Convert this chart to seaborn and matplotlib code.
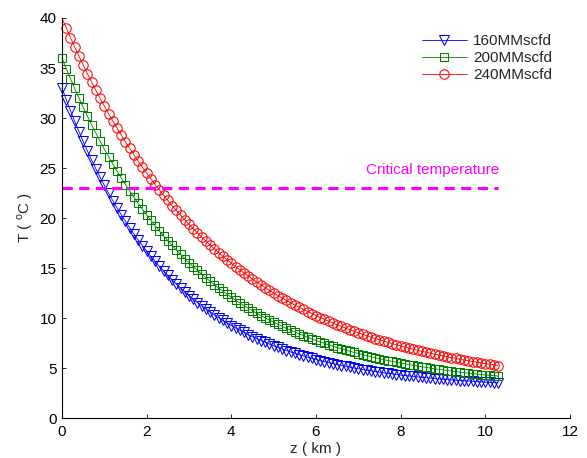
import matplotlib
matplotlib.use("Agg")
import matplotlib.pyplot as plt
import seaborn as sns
import pandas as pd

# depth along the pipeline (km)
z_km = [0.0, 0.1, 0.2, 0.3, 0.4, 0.5, 0.6, 0.7, 0.8, 0.9,
        1.0, 1.1, 1.2, 1.3, 1.4, 1.5, 1.6, 1.7, 1.8, 1.9,
        2.0, 2.1, 2.2, 2.3, 2.4, 2.5, 2.6, 2.7, 2.8, 2.9,
        3.0, 3.1, 3.2, 3.3, 3.4, 3.5, 3.6, 3.7, 3.8, 3.9,
        4.0, 4.1, 4.2, 4.3, 4.4, 4.5, 4.6, 4.7, 4.8, 4.9,
        5.0, 5.1, 5.2, 5.3, 5.4, 5.5, 5.6, 5.7, 5.8, 5.9,
        6.0, 6.1, 6.2, 6.3, 6.4, 6.5, 6.6, 6.7, 6.8, 6.9,
        7.0, 7.1, 7.2, 7.3, 7.4, 7.5, 7.6, 7.7, 7.8, 7.9,
        8.0, 8.1, 8.2, 8.3, 8.4, 8.5, 8.6, 8.7, 8.8, 8.9,
        9.0, 9.1, 9.2, 9.3, 9.4, 9.5, 9.6, 9.7, 9.8, 9.9,
        10.0, 10.1, 10.2, 10.3]

# temperature (degC)
T_160 = [33.00, 31.85, 30.74, 29.67, 28.65, 27.66, 26.71, 25.80, 24.92, 24.08,
         23.27, 22.49, 21.74, 21.02, 20.33, 19.66, 19.02, 18.40, 17.81, 17.24,
         16.69, 16.17, 15.66, 15.17, 14.71, 14.26, 13.82, 13.41, 13.01, 12.62,
         12.25, 11.90, 11.55, 11.22, 10.91, 10.60, 10.31, 10.03, 9.76, 9.50,
         9.25, 9.01, 8.78, 8.56, 8.34, 8.14, 7.94, 7.75, 7.57, 7.39,
         7.22, 7.06, 6.90, 6.75, 6.61, 6.47, 6.34, 6.21, 6.09, 5.97,
         5.85, 5.74, 5.64, 5.54, 5.44, 5.35, 5.25, 5.17, 5.08, 5.00,
         4.93, 4.85, 4.78, 4.71, 4.65, 4.58, 4.52, 4.46, 4.41, 4.35,
         4.30, 4.25, 4.20, 4.16, 4.11, 4.07, 4.03, 3.99, 3.95, 3.91,
         3.88, 3.85, 3.81, 3.78, 3.75, 3.72, 3.70, 3.67, 3.64, 3.62,
         3.59, 3.57, 3.55, 3.53]

T_200 = [36.00, 34.95, 33.94, 32.96, 32.01, 31.08, 30.19, 29.33, 28.49, 27.68,
         26.90, 26.14, 25.41, 24.70, 24.01, 23.34, 22.70, 22.07, 21.47, 20.88,
         20.31, 19.76, 19.23, 18.71, 18.22, 17.73, 17.27, 16.81, 16.37, 15.95,
         15.54, 15.14, 14.76, 14.38, 14.02, 13.67, 13.33, 13.00, 12.69, 12.38,
         12.08, 11.79, 11.51, 11.24, 10.98, 10.73, 10.48, 10.25, 10.02, 9.79,
         9.58, 9.37, 9.17, 8.97, 8.78, 8.60, 8.42, 8.25, 8.08, 7.92,
         7.76, 7.61, 7.47, 7.32, 7.19, 7.05, 6.93, 6.80, 6.68, 6.56,
         6.45, 6.34, 6.23, 6.13, 6.03, 5.94, 5.84, 5.75, 5.67, 5.58,
         5.50, 5.42, 5.34, 5.27, 5.20, 5.13, 5.06, 4.99, 4.93, 4.87,
         4.81, 4.75, 4.70, 4.64, 4.59, 4.54, 4.49, 4.44, 4.40, 4.35,
         4.31, 4.27, 4.23, 4.19]

T_240 = [40.00, 39.01, 38.04, 37.10, 36.19, 35.30, 34.43, 33.59, 32.77, 31.97,
         31.20, 30.44, 29.71, 28.99, 28.29, 27.61, 26.96, 26.31, 25.69, 25.08,
         24.49, 23.91, 23.35, 22.81, 22.27, 21.76, 21.25, 20.77, 20.29, 19.83,
         19.37, 18.94, 18.51, 18.09, 17.69, 17.29, 16.91, 16.54, 16.18, 15.82,
         15.48, 15.14, 14.82, 14.50, 14.19, 13.89, 13.60, 13.32, 13.04, 12.77,
         12.51, 12.25, 12.01, 11.76, 11.53, 11.30, 11.08, 10.86, 10.65, 10.45,
         10.25, 10.05, 9.86, 9.68, 9.50, 9.33, 9.16, 8.99, 8.83, 8.67,
         8.52, 8.37, 8.23, 8.09, 7.95, 7.82, 7.69, 7.57, 7.44, 7.32,
         7.21, 7.10, 6.99, 6.88, 6.77, 6.67, 6.58, 6.48, 6.39, 6.30,
         6.21, 6.12, 6.04, 5.96, 5.88, 5.80, 5.72, 5.65, 5.58, 5.51,
         5.44, 5.38, 5.31, 5.25]

crit_z = [0.0, 10.3]
crit_T = [23.0, 23.0]

sns.set_theme(style="ticks", rc={
    "xtick.direction": "in", "ytick.direction": "in",
    "xtick.major.size": 3, "ytick.major.size": 3,
    "xtick.major.width": 0.6, "ytick.major.width": 0.6,
    "axes.linewidth": 0.8, "axes.edgecolor": "black",
})
plt.rcParams["font.family"] = ["Liberation Sans", "DejaVu Sans"]
plt.rcParams["mathtext.fontset"] = "custom"
plt.rcParams["mathtext.rm"] = "Liberation Sans"

fig = plt.figure(figsize=(5.87, 4.58), dpi=100)
ax = fig.add_axes([0.1056, 0.0873, 0.8654, 0.8734])

series = [
    ("160MMscfd", T_160, "#0000ff", "v", 6.8, None),
    ("200MMscfd", T_200, "#008000", "s", 6.2, None),
    ("240MMscfd", T_240, "#ff0000", "o", 6.8, slice(1, None)),
]
for name, temps, col, mk, ms, every in series:
    df = pd.DataFrame({"z": z_km, "T": temps})
    sns.lineplot(data=df, x="z", y="T", ax=ax, color=col, linewidth=0.6,
                 marker=mk, markersize=ms, markerfacecolor="none",
                 markeredgecolor=col, markeredgewidth=0.75,
                 markevery=every, label=name, errorbar=None, clip_on=False)

ax.plot(crit_z, crit_T, color="#ff00ff", linewidth=2.3, dashes=(3.2, 2.0))
ax.text(7.18, 24.8, "Critical temperature", color="#ff00ff", fontsize=11,
        ha="left", va="center")

ax.set_xlim(0, 12)
ax.set_ylim(0, 40)
ax.set_xticks(range(0, 13, 2))
ax.set_yticks(range(0, 41, 5))
ax.tick_params(labelsize=11, colors="black")
ax.tick_params(axis="x", pad=5)
ax.tick_params(axis="y", pad=4)
ax.set_xlabel("z ( km )", fontsize=11, labelpad=2)
ax.set_ylabel(r"T ( $^{\mathrm{o}}$C )", fontsize=11, labelpad=3)
sns.despine(ax=ax)

ax.legend(loc="upper left", bbox_to_anchor=(0.708, 0.96), frameon=False,
          fontsize=11, handlelength=2.95, handletextpad=0.4,
          labelspacing=0.2, borderpad=0, borderaxespad=0)

fig.savefig("out.png", dpi=100)
